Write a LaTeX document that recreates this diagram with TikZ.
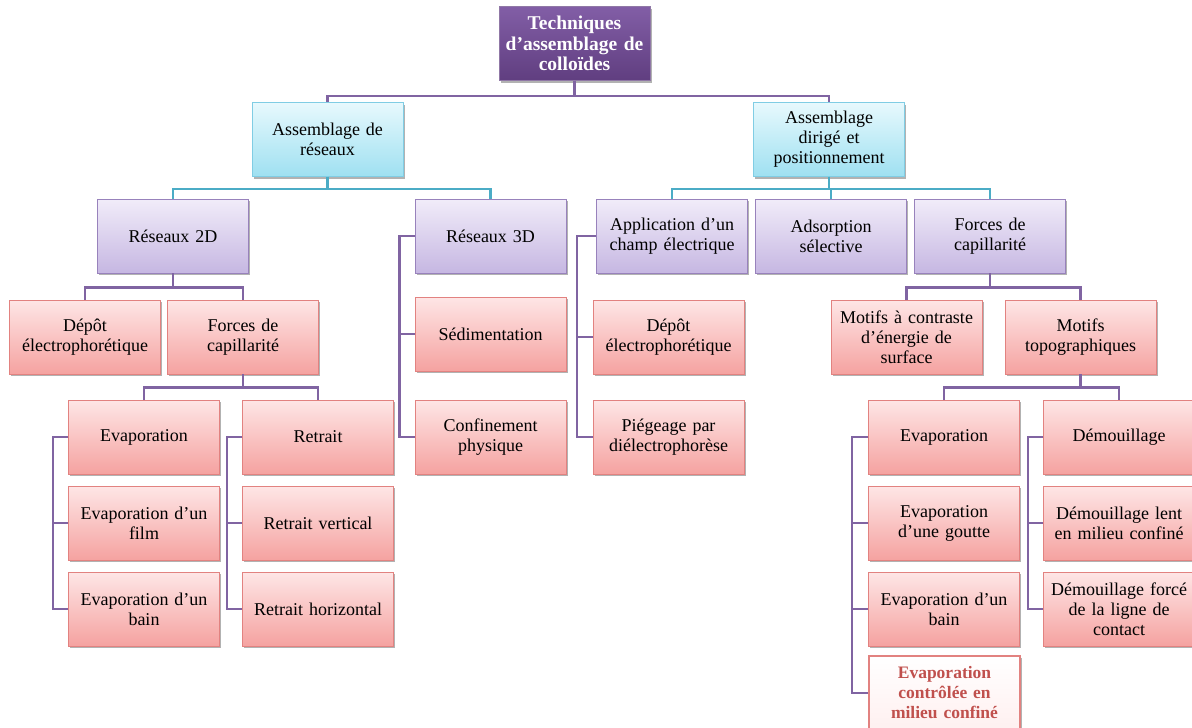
\documentclass[tikz,border=0pt]{standalone}
\usepackage{fontspec}
\setmainfont{Liberation Serif}
\usetikzlibrary{shadows,positioning}
\definecolor{plumtop}{RGB}{130,94,166}
\definecolor{plumdark}{RGB}{96,62,128}
\definecolor{linkplum}{RGB}{128,100,162}
\definecolor{linkcyan}{RGB}{75,172,198}
\definecolor{lilactop}{RGB}{241,236,249}
\definecolor{lilacbot}{RGB}{198,183,226}
\definecolor{lilacedge}{RGB}{152,130,188}
\definecolor{cyantop}{RGB}{232,249,253}
\definecolor{cyanbot}{RGB}{158,224,241}
\definecolor{cyanedge}{RGB}{128,205,228}
\definecolor{rosetop}{RGB}{254,230,230}
\definecolor{rosebot}{RGB}{245,162,160}
\definecolor{roseedge}{RGB}{226,130,128}
\definecolor{brickred}{RGB}{192,80,77}

\begin{document}
\begin{tikzpicture}[x=1pt,y=-1pt,
  box/.style={minimum width=151pt,minimum height=74pt,text width=148pt,
    inner sep=0pt,align=center,line width=0.9pt,shading=axis,
    font=\fontsize{18}{20}\selectfont,
    drop shadow={shadow xshift=1.5pt,shadow yshift=-2pt,opacity=0.3,fill=black}},
  topbox/.style={box,top color=plumtop,bottom color=plumdark,draw=plumdark!70,
    text=white,font=\fontsize{19.5}{20.5}\selectfont\bfseries},
  cyanbox/.style={box,top color=cyantop,bottom color=cyanbot,draw=cyanedge},
  lilacbox/.style={box,top color=lilactop,bottom color=lilacbot,draw=lilacedge},
  rosebox/.style={box,top color=rosetop,bottom color=rosebot,draw=roseedge},
  keybox/.style={box,top color=white,bottom color=rosetop!60,draw=roseedge,
    line width=1.4pt,text=brickred,font=\fontsize{17.5}{20}\selectfont\bfseries},
  link/.style={draw=linkplum,line width=2.7pt},
  cyanlink/.style={draw=linkcyan,line width=2.7pt}]
\useasboundingbox (0,0) rectangle (1192,728);
\fill[white] (0,0) rectangle (1192,728);

% racine et premier niveau
\node[topbox] (root) at (574.5,43.5) {Techniques\\d’assemblage de\\colloïdes};
\node[cyanbox] (reseaux) at (327.5,139.5) {Assemblage de\\réseaux};
\node[cyanbox] (dirige) at (829,139.5) {Assemblage\\dirigé et\\positionnement};

% assemblage de reseaux
\node[lilacbox] (res2d) at (173,236) {Réseaux 2D};
\node[lilacbox] (res3d) at (490.5,236) {Réseaux 3D};
\node[rosebox] (depotA) at (85,337) {Dépôt\\électrophorétique};
\node[rosebox] (forcesA) at (243,337) {Forces de\\capillarité};
\node[rosebox] (evapA) at (144,437) {Evaporation};
\node[rosebox] (film) at (144,523) {Evaporation d’un\\film};
\node[rosebox] (bainA) at (144,609) {Evaporation d’un\\bain};
\node[rosebox] (retrait) at (318,437) {Retrait};
\node[rosebox] (retraitv) at (318,523) {Retrait vertical};
\node[rosebox] (retraith) at (318,609) {Retrait horizontal};
\node[rosebox] (sedim) at (490.5,334) {Sédimentation};
\node[rosebox] (confin) at (490.5,437) {Confinement\\physique};

% assemblage dirige
\node[lilacbox] (champ) at (672,236) {Application d’un\\champ électrique};
\node[lilacbox] (adsorp) at (831,236) {Adsorption\\sélective};
\node[lilacbox] (forcesB) at (990,236) {Forces de\\capillarité};
\node[rosebox] (depotB) at (668.5,337) {Dépôt\\électrophorétique};
\node[rosebox] (piege) at (668.5,437) {Piégeage par\\diélectrophorèse};
\node[rosebox] (contraste) at (906.5,337) {Motifs à contraste\\d’énergie de\\surface};
\node[rosebox] (topo) at (1080.5,337) {Motifs\\topographiques};
\node[rosebox] (evapB) at (944,437) {Evaporation};
\node[rosebox] (goutte) at (944,523) {Evaporation\\d’une goutte};
\node[rosebox] (bainB) at (944,609) {Evaporation d’un\\bain};
\node[keybox] (controle) at (944.5,693) {Evaporation\\contrôlée en\\milieu confiné};
\node[rosebox] (demou) at (1119,437) {Démouillage};
\node[rosebox] (lent) at (1119,523) {Démouillage lent\\en milieu confiné};
\node[rosebox] (force) at (1119,609) {Démouillage forcé\\de la ligne de\\contact};

% liens
\draw[link] (root.south) -- ++(0,15) -| (reseaux.north);
\draw[link] (root.south) -- ++(0,15) -| (dirige.north);
\foreach \n in {res2d,res3d}
  \draw[cyanlink] (reseaux.south) -- ++(0,12) -| (\n.north);
\foreach \n in {champ,adsorp,forcesB}
  \draw[cyanlink] (dirige.south) -- ++(0,12) -| (\n.north);
\foreach \n in {depotA,forcesA}
  \draw[link] (res2d.south) -- ++(0,14) -| (\n.north);
\foreach \n in {evapA,retrait}
  \draw[link] (forcesA.south) -- ++(0,13) -| (\n.north);
\foreach \n in {contraste,topo}
  \draw[link] (forcesB.south) -- ++(0,14) -| (\n.north);
\foreach \n in {evapB,demou}
  \draw[link] (topo.south) -- ++(0,13) -| (\n.north);
\foreach \n in {film,bainA}
  \draw[link] (evapA.west) -- ++(-15,0) |- (\n.west);
\foreach \n in {retraitv,retraith}
  \draw[link] (retrait.west) -- ++(-15,0) |- (\n.west);
\foreach \n in {sedim,confin}
  \draw[link] (res3d.west) -- ++(-15,0) |- (\n.west);
\foreach \n in {depotB,piege}
  \draw[link] (champ.west) -- ++(-19,0) |- (\n.west);
\foreach \n in {goutte,bainB,controle}
  \draw[link] (evapB.west) -- ++(-16,0) |- (\n.west);
\foreach \n in {lent,force}
  \draw[link] (demou.west) -- ++(-15,0) |- (\n.west);
\end{tikzpicture}
\end{document}
